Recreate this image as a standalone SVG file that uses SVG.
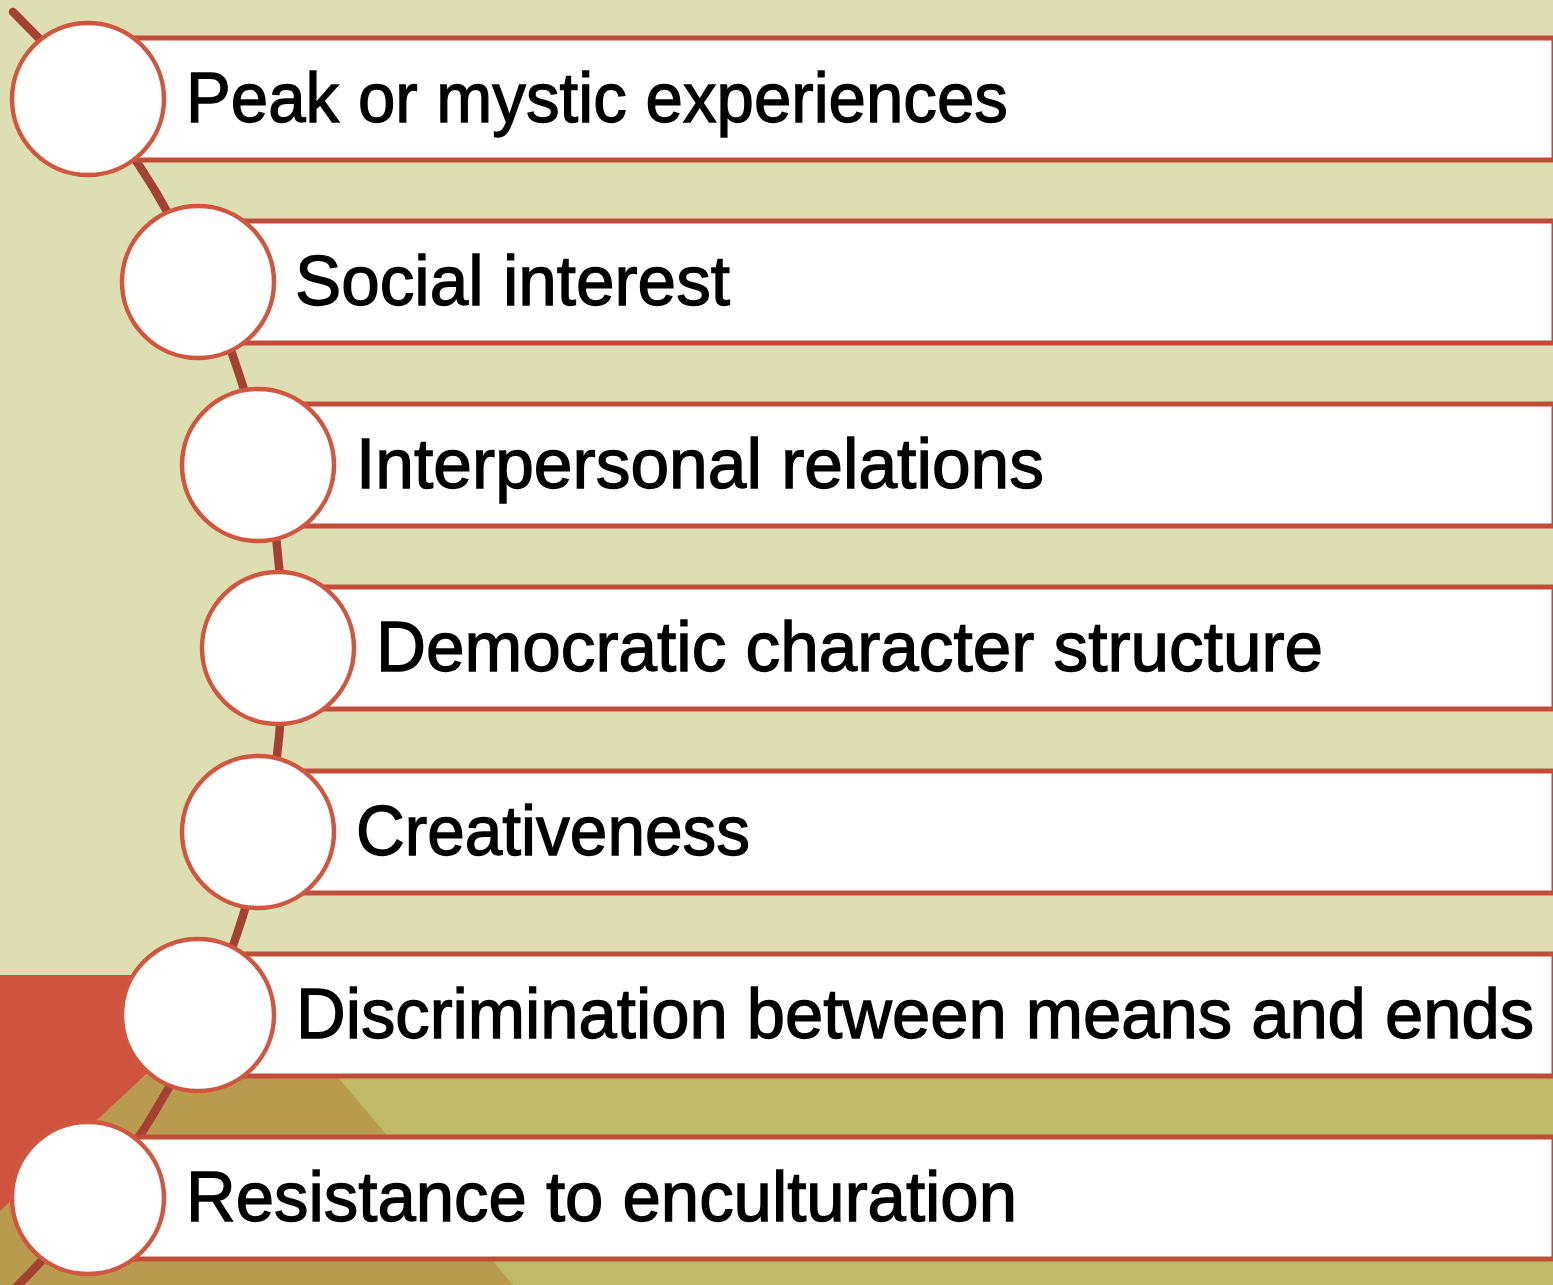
<svg xmlns="http://www.w3.org/2000/svg" width="1553" height="1285" viewBox="0 0 1553 1285">
  <style>
    .box { fill: #ffffff; stroke: #C04D3A; stroke-width: 5; }
    .dot { fill: #ffffff; stroke: #D15640; stroke-width: 4.5; }
    .label { font-family: "Liberation Sans", Arial, sans-serif; font-size: 70px; fill: #000000; stroke: #000000; stroke-width: 1.3; }
    .spine { fill: none; stroke: #A44132; stroke-width: 8.5; stroke-linecap: round; }
  </style>

  <!-- background bands -->
  <g id="background">
    <rect x="0" y="0" width="1553" height="1285" fill="#DDDFB2"/>
    <rect x="0" y="975" width="1553" height="310" fill="#BEBA68"/>
    <polygon points="252,975 0,1211 0,1285 513,1285" fill="#B99B50"/>
    <polygon points="0,975 252,975 0,1211" fill="#D05340"/>
  </g>

  <!-- curved spine linking the step circles -->
  <g id="connectors">
    <path class="spine" d="M 13 12 A 891 891 0 0 1 11 1292"/>
  </g>

  <g id="step-1">
    <rect class="box" x="88" y="38" width="1466" height="122"/>
    <circle class="dot" cx="88" cy="99" r="76"/>
    <text class="label" x="186" y="122" textLength="822" lengthAdjust="spacingAndGlyphs">Peak or mystic experiences</text>
  </g>

  <g id="step-2">
    <rect class="box" x="198" y="221" width="1356" height="122"/>
    <circle class="dot" cx="198" cy="282" r="76"/>
    <text class="label" x="295" y="305" textLength="435" lengthAdjust="spacingAndGlyphs">Social interest</text>
  </g>

  <g id="step-3">
    <rect class="box" x="258" y="404" width="1296" height="122"/>
    <circle class="dot" cx="258" cy="465" r="76"/>
    <text class="label" x="356" y="488" textLength="688" lengthAdjust="spacingAndGlyphs">Interpersonal relations</text>
  </g>

  <g id="step-4">
    <rect class="box" x="278" y="587" width="1276" height="122"/>
    <circle class="dot" cx="278" cy="648" r="76"/>
    <text class="label" x="376" y="671" textLength="947" lengthAdjust="spacingAndGlyphs">Democratic character structure</text>
  </g>

  <g id="step-5">
    <rect class="box" x="258" y="771" width="1296" height="122"/>
    <circle class="dot" cx="258" cy="832" r="76"/>
    <text class="label" x="356" y="855" textLength="394" lengthAdjust="spacingAndGlyphs">Creativeness</text>
  </g>

  <g id="step-6">
    <rect class="box" x="198" y="954" width="1356" height="122"/>
    <circle class="dot" cx="198" cy="1015" r="76"/>
    <text class="label" x="296" y="1038" textLength="1238" lengthAdjust="spacingAndGlyphs">Discrimination between means and ends</text>
  </g>

  <g id="step-7">
    <rect class="box" x="88" y="1137" width="1466" height="122"/>
    <circle class="dot" cx="88" cy="1198" r="76"/>
    <text class="label" x="186" y="1221" textLength="831" lengthAdjust="spacingAndGlyphs">Resistance to enculturation</text>
  </g>
</svg>
